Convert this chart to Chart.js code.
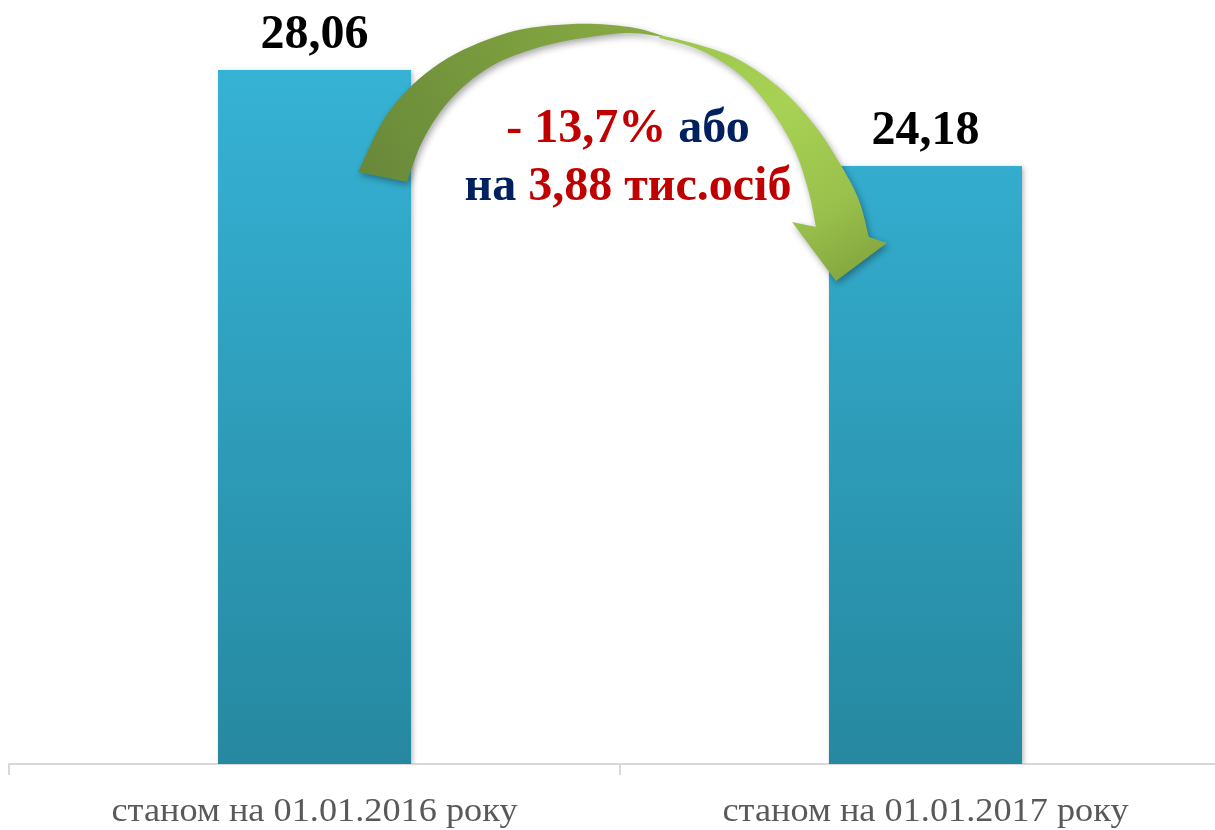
<!DOCTYPE html>
<html>
<head>
<meta charset="utf-8">
<script src="https://cdn.jsdelivr.net/npm/chart.js@4.4.1/dist/chart.umd.min.js"></script>
<style>
  html, body { margin: 0; padding: 0; background: #fff; overflow: hidden; }
  #wrap { width: 1231px; height: 830px; position: relative; }
</style>
</head>
<body>
<div id="wrap"><canvas id="c"></canvas></div>
<script>
const categories = ['станом на 01.01.2016 року', 'станом на 01.01.2017 року'];
const values = [28.06, 24.18];
const valueLabels = ['28,06', '24,18'];
const noteLine1 = [['- 13,7%', '#C00000'], [' або', '#002060']];
const noteLine2 = [['на ', '#002060'], ['3,88 тис.осіб', '#C00000']];

const serif = '"Liberation Serif", "Times New Roman", serif';

function barGradient(ctx) {
  const chart = ctx.chart;
  const ca = chart.chartArea;
  if (!ca) return '#33B0D3';
  const g = chart.ctx.createLinearGradient(0, ca.top + 60, 0, ca.bottom);
  g.addColorStop(0, '#36B3D6');
  g.addColorStop(1, '#2688A0');
  return g;
}

// smooth path through points (Catmull-Rom -> Bezier)
function smooth(ctx, pts, first) {
  if (first) ctx.moveTo(pts[0][0], pts[0][1]); else ctx.lineTo(pts[0][0], pts[0][1]);
  for (let i = 0; i < pts.length - 1; i++) {
    const p0 = pts[Math.max(0, i - 1)], p1 = pts[i], p2 = pts[i + 1], p3 = pts[Math.min(pts.length - 1, i + 2)];
    const c1 = [p1[0] + (p2[0] - p0[0]) / 6, p1[1] + (p2[1] - p0[1]) / 6];
    const c2 = [p2[0] - (p3[0] - p1[0]) / 6, p2[1] - (p3[1] - p1[1]) / 6];
    ctx.bezierCurveTo(c1[0], c1[1], c2[0], c2[1], p2[0], p2[1]);
  }
}

const shadowPlugin = {
  id: 'barShadow',
  beforeDatasetsDraw(chart) {
    const c = chart.ctx;
    c.save();
    c.shadowColor = 'rgba(0,0,0,0.28)';
    c.shadowBlur = 5;
    c.shadowOffsetX = 2;
    c.shadowOffsetY = 1;
  },
  afterDatasetsDraw(chart) {
    chart.ctx.restore();
  }
};

const decorPlugin = {
  id: 'decor',
  afterDraw(chart) {
    const c = chart.ctx;
    const meta = chart.getDatasetMeta(0);
    const b1 = meta.data[0], b2 = meta.data[1];
    // arrow anchored to the bars (offsets relative to bar1 right edge/top)
    const ax = b1.x + b1.width / 2, ay = b1.y;   // ~ (411, 70)
    const bx = b2.x - b2.width / 2;              // ~ 830
    const sx = (bx - ax) / 419;
    const P = (x, y) => [ax + (x - 411) * sx, ay + (y - 70)];

    const shadow = () => {
      c.shadowColor = 'rgba(0,0,0,0.35)';
      c.shadowBlur = 7;
      c.shadowOffsetX = 2;
      c.shadowOffsetY = 3;
    };

    // left (rear) part of the ribbon
    const leftOuter = [P(358,172), P(390,110), P(440,63), P(507,33), P(573,24), P(630,27), P(664,36)];
    const leftInner = [P(664,37), P(630,33), P(590,37), P(540,47), P(490,67), P(450,100), P(423,140), P(407,182)];
    c.save();
    c.beginPath();
    smooth(c, leftOuter, true);
    smooth(c, leftInner, false);
    c.closePath();
    let g0 = P(360,180), g1 = P(660,30);
    let g = c.createLinearGradient(g0[0], g0[1], g1[0], g1[1]);
    g.addColorStop(0, '#68883A');
    g.addColorStop(0.6, '#7C9E3E');
    g.addColorStop(1, '#89AC45');
    c.fillStyle = g;
    shadow();
    c.fill();
    c.restore();

    // right (front) part with the head
    const rightOuter = [P(660,35), P(700,45), P(740,60), P(783,90), P(817,127), P(843,167), P(860,200), P(870,237)];
    const rightInner = [P(817,227), P(810,193), P(797,153), P(777,117), P(750,83), P(720,60), P(690,46), P(660,38)];
    c.save();
    c.beginPath();
    smooth(c, rightOuter, true);
    const rb = P(888,243), tip = P(837,281), lb = P(793,222);
    c.lineTo(rb[0], rb[1]);
    c.lineTo(tip[0], tip[1]);
    c.lineTo(lb[0], lb[1]);
    smooth(c, rightInner, false);
    c.closePath();
    g0 = P(700,40); g1 = P(840,280);
    g = c.createLinearGradient(g0[0], g0[1], g1[0], g1[1]);
    g.addColorStop(0, '#9CC84C');
    g.addColorStop(0.35, '#A8D254');
    g.addColorStop(0.75, '#9AC14C');
    g.addColorStop(1, '#86A840');
    c.fillStyle = g;
    shadow();
    c.fill();
    c.restore();

    // value labels
    c.save();
    c.font = 'bold 48px ' + serif;
    c.fillStyle = '#000';
    c.textAlign = 'center';
    c.textBaseline = 'alphabetic';
    meta.data.forEach((bar, i) => {
      c.fillText(valueLabels[i], bar.x, bar.y - 22);
    });
    c.restore();

    // note text, centred between the bars
    const cx = (b1.x + b2.x) / 2 + 8;
    c.save();
    c.font = 'bold 48px ' + serif;
    c.textBaseline = 'alphabetic';
    c.textAlign = 'left';
    [[noteLine1, ay + 72], [noteLine2, ay + 130]].forEach(([parts, y]) => {
      const total = parts.reduce((s, p) => s + c.measureText(p[0]).width, 0);
      let x = cx - total / 2;
      parts.forEach(([t, col]) => {
        c.fillStyle = col;
        c.fillText(t, x, y);
        x += c.measureText(t).width;
      });
    });
    c.restore();

    // category labels (slightly stretched horizontally like the original)
    const xs = chart.scales.x;
    c.save();
    c.font = '33px ' + serif;
    c.fillStyle = '#595959';
    c.textAlign = 'center';
    c.textBaseline = 'alphabetic';
    chart.data.labels.forEach((lab, i) => {
      const px = xs.getPixelForTick(i);
      c.save();
      c.translate(px, xs.bottom - 9);
      c.scale(1.1, 1);
      c.fillText(lab, 0, 0);
      c.restore();
    });
    c.restore();
  }
};

new Chart(document.getElementById('c'), {
  type: 'bar',
  data: {
    labels: categories,
    datasets: [{
      data: values,
      backgroundColor: barGradient,
      borderWidth: 0,
      barPercentage: 1,
      categoryPercentage: 0.316
    }]
  },
  options: {
    responsive: true,
    maintainAspectRatio: false,
    animation: false,
    events: [],
    layout: { padding: { left: 9, right: 0, top: 0, bottom: 0 } },
    plugins: { legend: { display: false }, tooltip: { enabled: false } },
    scales: {
      y: { display: false, min: 0, max: 30.89 },
      x: {
        afterFit: (scale) => { scale.height = 66; },
        grid: { display: true, drawOnChartArea: false, drawTicks: true, tickLength: 11, color: '#D9D9D9', lineWidth: 2, offset: true },
        border: { display: true, color: '#D9D9D9', width: 2 },
        ticks: { display: false }
      }
    }
  },
  plugins: [shadowPlugin, decorPlugin]
});
</script>
</body>
</html>
